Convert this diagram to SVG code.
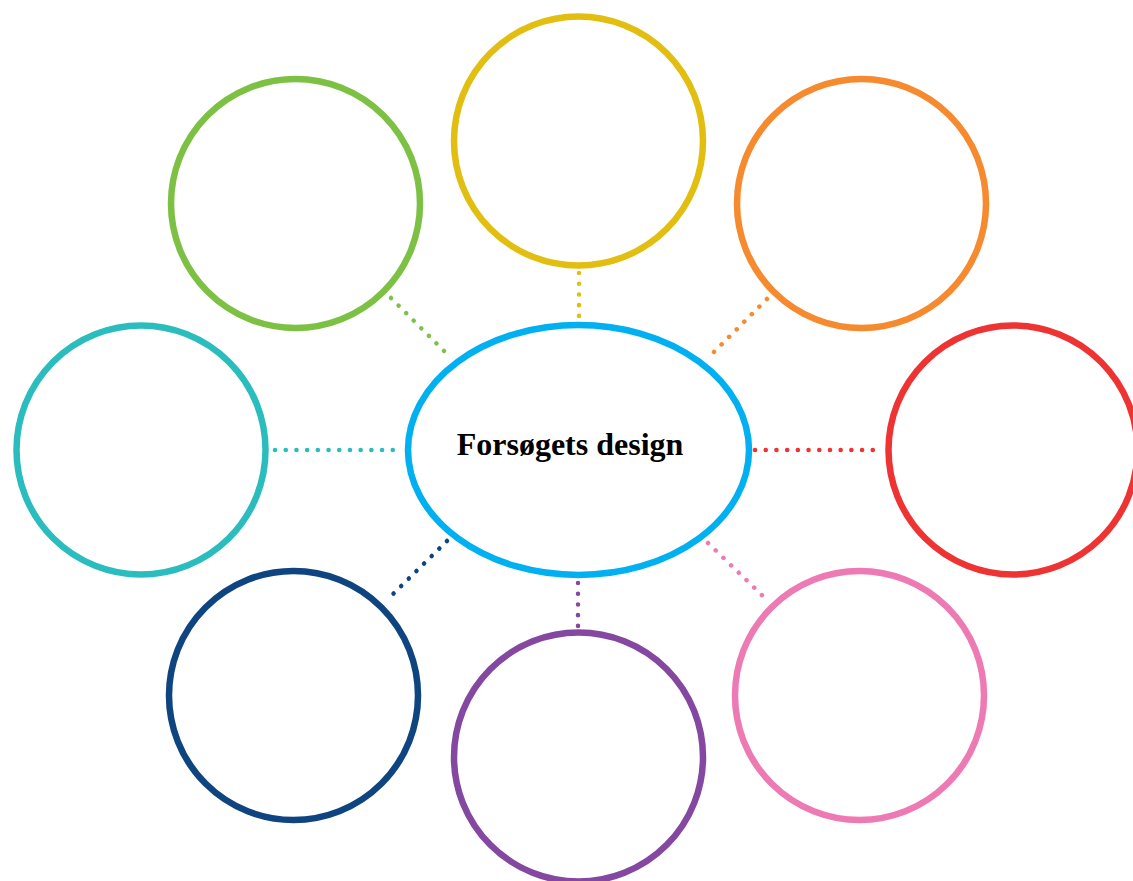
<svg xmlns="http://www.w3.org/2000/svg" width="1133" height="881" viewBox="0 0 1133 881">
<style>
.c{fill:#fff;stroke-width:6.5}
.d{fill:none;stroke-width:4.5;stroke-linecap:round;stroke-dasharray:0.1 10.6}
.t{font-family:"Liberation Serif","Times New Roman",serif;font-weight:bold;font-size:32px;fill:#000}
</style>
<rect width="1133" height="881" fill="#fff"/>
<g id="connectors">
<line class="d" stroke="#7DC144" x1="391" y1="298" x2="450" y2="357"/>
<line class="d" stroke="#E2BE10" x1="579" y1="273" x2="579" y2="317"/>
<line class="d" stroke="#F58A2E" x1="767" y1="299" x2="709" y2="357"/>
<line class="d" stroke="#2BBDBD" x1="275" y1="450" x2="402" y2="450"/>
<line class="d" stroke="#EE3333" x1="755" y1="450" x2="882" y2="450"/>
<line class="d" stroke="#0E4580" x1="447" y1="541" x2="388" y2="599"/>
<line class="d" stroke="#8548A0" x1="578" y1="583" x2="578" y2="627"/>
<line class="d" stroke="#EE7AB4" x1="708" y1="543" x2="767" y2="600"/>
</g>
<g id="n-yellow"><circle class="c" stroke="#E2BE10" cx="578.5" cy="141" r="124.5"/></g>
<g id="n-green"><circle class="c" stroke="#7DC144" cx="295.5" cy="203.5" r="124.5"/></g>
<g id="n-orange"><circle class="c" stroke="#F58A2E" cx="861.5" cy="203.5" r="124.5"/></g>
<g id="n-teal"><circle class="c" stroke="#2BBDBD" cx="141" cy="450" r="124.5"/></g>
<g id="n-red"><circle class="c" stroke="#EE3333" cx="1013" cy="450" r="124.5"/></g>
<g id="n-navy"><circle class="c" stroke="#0E4580" cx="293.5" cy="695.5" r="124.5"/></g>
<g id="n-pink"><circle class="c" stroke="#EE7AB4" cx="859.5" cy="695.5" r="124.5"/></g>
<g id="n-purple"><circle class="c" stroke="#8548A0" cx="578.5" cy="757" r="124.5"/></g>
<g id="n-center">
<ellipse class="c" stroke="#00B0F0" cx="578.5" cy="450" rx="170.5" ry="125"/>
<text class="t" x="570" y="455" text-anchor="middle">Forsøgets design</text>
</g>
</svg>
